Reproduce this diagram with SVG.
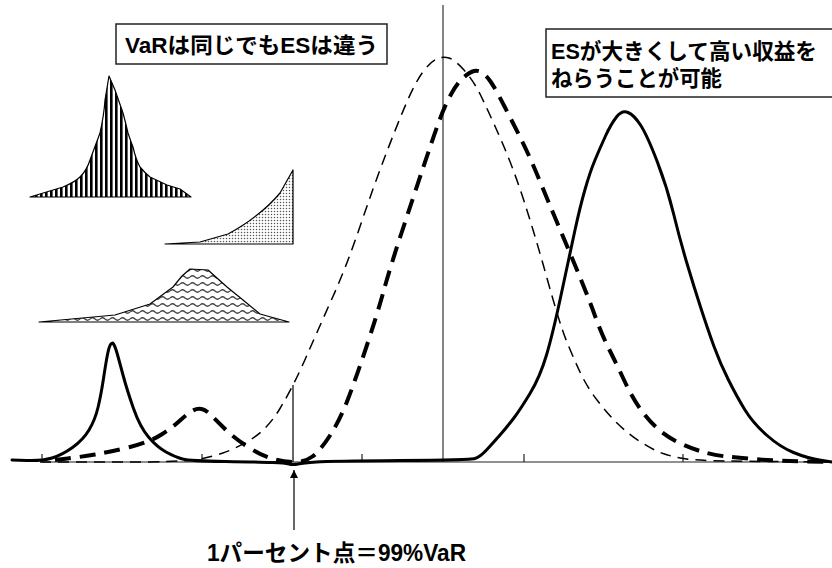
<svg xmlns="http://www.w3.org/2000/svg" width="832" height="568" viewBox="0 0 832 568">
<style>
.lbl{font-family:"Liberation Sans","Noto Sans CJK JP",sans-serif;fill:#000;font-weight:bold;}
.box{fill:#fff;stroke:#222;stroke-width:1.5;}
.solid{fill:none;stroke:#000;stroke-width:3;stroke-linejoin:round;stroke-linecap:round;}
.thin{fill:none;stroke:#000;stroke-width:1.5;stroke-dasharray:11 7;}
.thick{fill:none;stroke:#000;stroke-width:4;stroke-dasharray:16 9;}
.ax{stroke:#222;stroke-width:1.2;fill:none;}
.inset{stroke:#000;stroke-width:1.2;stroke-linejoin:round;}
</style>
<defs>
<pattern id="vstripe" width="5" height="10" patternUnits="userSpaceOnUse">
<rect width="5" height="10" fill="#fff"/><rect width="2.6" height="10" fill="#000"/>
</pattern>
<pattern id="dots" width="3" height="3" patternUnits="userSpaceOnUse">
<rect width="3" height="3" fill="#fff"/><circle cx="1.5" cy="1.5" r="0.75" fill="#555"/>
</pattern>
<pattern id="wave" width="10" height="7" patternUnits="userSpaceOnUse">
<rect width="10" height="7" fill="#fff"/><path d="M0,4 Q2.5,1.5 5,4 T10,4" fill="none" stroke="#444" stroke-width="1.2"/>
</pattern>
<marker id="ah" viewBox="0 0 10 10" refX="10" refY="5" markerWidth="8" markerHeight="8" markerUnits="userSpaceOnUse" orient="auto">
<path d="M0,0 L10,5 L0,10 Z" fill="#000"/>
</marker>
</defs>

<g id="axis">
<line class="ax" x1="42" y1="462" x2="832" y2="462"/>
<path class="ax" d="M42,454V462 M202,454V462 M362,454V462 M524,454V462 M683,454V462"/>
<line x1="443" y1="5" x2="443" y2="462" stroke="#333" stroke-width="1.2"/>
<line x1="293" y1="385" x2="293" y2="462" stroke="#000" stroke-width="1.2"/>
</g>

<g id="insets">
<path id="inset-stripe" class="inset" fill="url(#vstripe)" d="M30,197 L63,187 Q75,182 80,177 Q87,170 90,160 L100,133 Q104,115 105,100 L109,76 L115,90 L123,113 Q126,124 128,133 Q131,142 133,147 Q136,160 140,167 Q145,173 150,177 L167,185 L180,189 L191,197 Z"/>
<path id="inset-dots" class="inset" fill="url(#dots)" d="M165,244 L200,242 L228,234 Q245,225 257,215 Q270,205 280,193 L293,170 L293,244 Z"/>
<path id="inset-wave" class="inset" fill="url(#wave)" d="M39,322 L115,315 L150,304 L173,287 L182,276 L190,269 L208,270 L227,287 L243,300 L260,314 L289,322 Z"/>
</g>

<g id="connectors">
<path id="curve-thin" class="thin" d="M40,462 L150,462 Q190,461 200,459 Q210,457 221.5,453.5 Q233,450 250,440 Q267,430 280,408.5 Q293,387 305.5,358.5 Q318,330 332.5,297.5 Q347,265 360,226.5 Q373,188 385,156.5 Q397,125 406,104 Q415,83 422.5,72.5 Q430,62 436.5,59 Q443,56 449,58 Q455,60 464,70 Q473,80 480,94 Q487,108 500,137.5 Q513,167 524,201 Q535,235 547.5,280 Q560,325 566.5,341 Q573,357 580,372 Q587,387 597,400 Q607,413 617,423 Q627,433 640,441.5 Q653,450 663,453.5 Q673,457 686.5,459 Q700,461 766,461.5 L832,462"/>
<path id="curve-thick" class="thick" d="M55,460 L67.5,458.5 Q80,457 95,454.5 Q110,452 130,447 Q150,442 161.5,434.5 Q173,427 180,420.5 Q187,414 192,411 Q197,408 201.5,409 Q206,410 210.5,414.5 Q215,419 224,428 Q233,437 246.5,446 Q260,455 271.5,458.5 Q283,462 294,462 Q305,462 312.5,456.5 Q320,451 330,435.5 Q340,420 348,399 Q356,378 366.5,346.5 Q377,315 383.5,291.5 Q390,268 401.5,233 Q413,198 423,168 Q433,138 439,121.5 Q445,105 451.5,93.5 Q458,82 464,77 Q470,72 474,71 Q478,70 482,72.5 Q486,75 490.5,81.5 Q495,88 504,105.5 Q513,123 521.5,140 Q530,157 541.5,185 Q553,213 563,236.5 Q573,260 581.5,281 Q590,302 596,318.5 Q602,335 609.5,350 Q617,365 624.5,381 Q632,397 640,408.5 Q648,420 657.5,428.5 Q667,437 678.5,442.5 Q690,448 701.5,451.5 Q713,455 726.5,456.5 Q740,458 760,459.5 Q780,461 806,461.5 L832,462"/>
<path id="curve-solid" class="solid" d="M12,460 L27,460.5 Q42,461 52,458 Q62,455 72.5,447.5 Q83,440 89,430 Q95,420 98,407.5 Q101,395 103.5,378.5 Q106,362 107.5,354.5 Q109,347 110.5,344.5 Q112,342 113.5,344 Q115,346 117,353 Q119,360 123,375 Q127,390 133.5,408.5 Q140,427 148.5,437 Q157,447 166,452 Q175,457 182.5,459 Q190,461 225,461.5 Q260,462 272.5,462.5 Q285,463 289,464 Q293,465 298,464 Q303,463 316.5,462 Q330,461 400,460.5 Q470,460 475,458.5 Q480,457 486.5,450 Q493,443 500,435 Q507,427 513.5,418.5 Q520,410 530,393.5 Q540,377 546.5,355 Q553,333 561.5,293 Q570,253 575,230 Q580,207 585,189.5 Q590,172 595,160 Q600,148 605.5,136 Q611,124 616.5,117 Q622,110 628,112.5 Q634,115 640.5,125 Q647,135 657,161 Q667,187 673.5,213.5 Q680,240 687,263.5 Q694,287 701,308.5 Q708,330 714,346.5 Q720,363 728.5,380 Q737,397 745,410 Q753,423 766.5,435 Q780,447 793.5,452.5 Q807,458 819.5,460 L832,462"/>
<line id="var-arrow" x1="294" y1="530" x2="294" y2="470" stroke="#000" stroke-width="1.2" marker-end="url(#ah)"/>
</g>

<g id="label-var">
<rect class="box" x="116" y="24" width="271" height="40"/>
<text class="lbl" x="125" y="53" font-size="22" textLength="253" lengthAdjust="spacingAndGlyphs">VaRは同じでもESは違う</text>
</g>
<g id="label-es">
<rect class="box" x="546" y="29" width="290" height="68"/>
<text class="lbl" x="551" y="59" font-size="22" textLength="266" lengthAdjust="spacingAndGlyphs">ESが大きくして高い収益を</text>
<text class="lbl" x="551" y="86" font-size="22" textLength="171" lengthAdjust="spacingAndGlyphs">ねらうことが可能</text>
</g>
<g id="label-point">
<text class="lbl" x="207" y="561" font-size="23" textLength="259" lengthAdjust="spacingAndGlyphs">1パーセント点＝99%VaR</text>
</g>
</svg>
